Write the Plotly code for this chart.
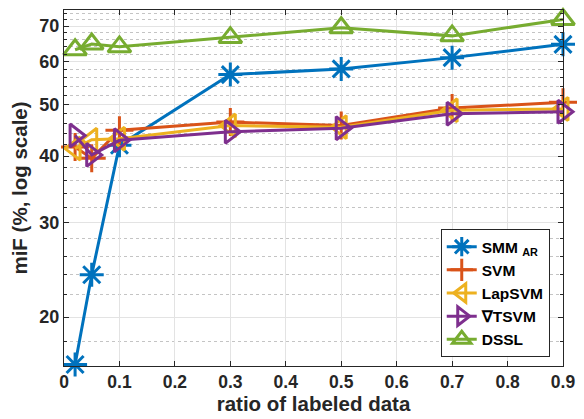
import plotly.graph_objects as go

ratio = [0.02, 0.05, 0.1, 0.3, 0.5, 0.7, 0.9]
smm_ar = [16.3, 24.0, 41.9, 56.8, 58.2, 61.1, 64.7]
svm = [41.6, 39.6, 44.7, 46.3, 45.6, 49.2, 50.4]
lapsvm = [41.3, 42.9, 43.1, 45.6, 45.3, 48.7, 49.0]
tsvm = [43.7, 40.2, 42.8, 44.4, 45.1, 48.0, 48.4]
dssl = [63.2, 64.8, 64.0, 66.6, 69.5, 67.1, 72.0]

series = [
    ("SMM <sub>AR</sub>", smm_ar, "#0072BD", "asterisk-open"),
    ("SVM", svm, "#D95319", "cross-thin-open"),
    ("LapSVM", lapsvm, "#EDB120", "triangle-left-open"),
    ("\u2207TSVM", tsvm, "#7E2F8E", "triangle-right-open"),
    ("DSSL", dssl, "#77AC30", "triangle-up-open"),
]

x_ticks = [0, 0.1, 0.2, 0.3, 0.4, 0.5, 0.6, 0.7, 0.8, 0.9]
x_ticklabels = ["0", "0.1", "0.2", "0.3", "0.4", "0.5", "0.6", "0.7", "0.8", "0.9"]
y_ticks = [20, 30, 40, 50, 60, 70]
y_minor = [18, 22, 24, 26, 28, 32, 34, 36, 38, 42, 44, 46, 48, 52, 54, 56, 58, 62, 64, 66, 68, 72, 74]

FONT = "Liberation Sans, Arial, sans-serif"

fig = go.Figure()
for name, vals, color, sym in series:
    fig.add_trace(go.Scatter(
        x=ratio, y=vals, name=name, mode="lines+markers",
        line=dict(color=color, width=3),
        marker=dict(symbol=sym, size=20, color=color, line=dict(color=color, width=3)),
        cliponaxis=False,
    ))

fig.update_layout(
    width=584, height=419,
    margin=dict(l=64, r=14, t=9, b=52),
    paper_bgcolor="white", plot_bgcolor="white",
    font=dict(family=FONT, color="#262626"),
    showlegend=True,
    legend=dict(
        x=0.755, y=0.025, xanchor="left", yanchor="bottom",
        bgcolor="white", bordercolor="#262626", borderwidth=1,
        font=dict(family=FONT, size=15.5, color="black", weight="bold"),
        tracegroupgap=0, itemwidth=30,
    ),
    xaxis=dict(
        range=[0, 0.9], tickvals=x_ticks, ticktext=x_ticklabels,
        showline=True, linecolor="#262626", linewidth=1, mirror="ticks",
        ticks="inside", ticklen=5, tickcolor="#262626",
        showgrid=True, gridcolor="#e3e3e3", gridwidth=1,
        zeroline=False,
        tickfont=dict(family=FONT, size=17.5, color="#262626", weight="bold"),
        title=dict(text="ratio of labeled data", standoff=4,
                   font=dict(family=FONT, size=20.5, color="#262626", weight="bold")),
    ),
    yaxis=dict(
        type="log", range=[1.2095, 1.8751],
        tickvals=y_ticks, ticktext=[str(v) for v in y_ticks],
        showline=True, linecolor="#262626", linewidth=1, mirror="ticks",
        ticks="inside", ticklen=5, tickcolor="#262626",
        showgrid=True, gridcolor="#e3e3e3", gridwidth=1,
        zeroline=False,
        minor=dict(tickvals=y_minor, ticks="inside", ticklen=3, tickcolor="#262626",
                   showgrid=True, gridcolor="#c4c4c4", griddash="dot", gridwidth=1),
        tickfont=dict(family=FONT, size=18, color="#262626", weight="bold"),
        title=dict(text="miF (%, log scale)", standoff=6,
                   font=dict(family=FONT, size=20.5, color="#262626", weight="bold")),
    ),
)

fig.write_html("out.html")
